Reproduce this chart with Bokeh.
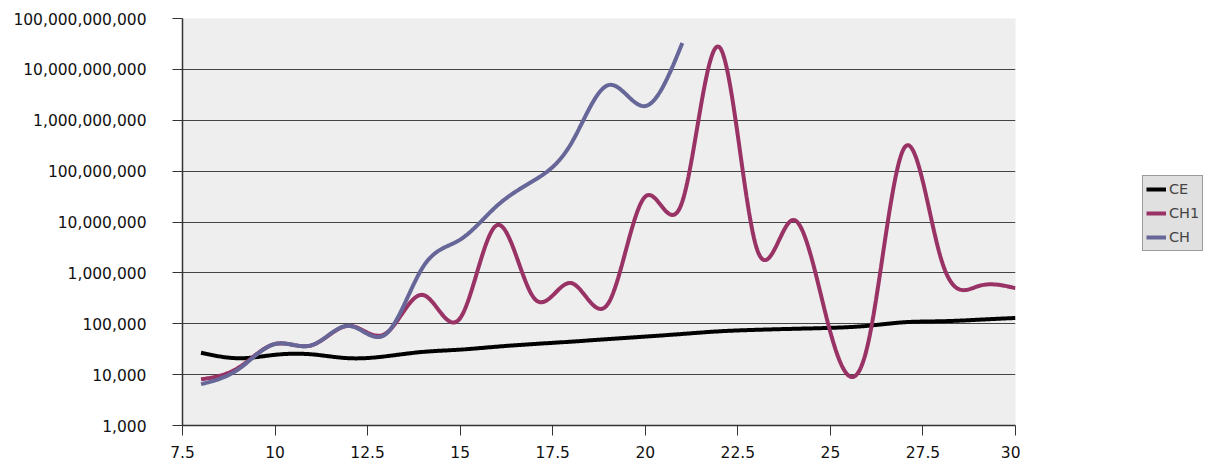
import numpy as np
from bokeh.plotting import figure
from bokeh.layouts import row
from bokeh.models import (FixedTicker, NumeralTickFormatter, Legend, LegendItem)
from bokeh.embed import file_html
from bokeh.resources import INLINE

# ---- data ----
x_all = [8, 9, 10, 11, 12, 13, 14, 15, 16, 17, 18, 19, 20, 21, 22, 23, 24, 25, 26, 27, 28, 29, 30]
ce = [27000, 21000, 24500, 25000, 21000, 23000, 28000, 31000, 35500, 40000, 44500, 50000,
      56000, 63000, 71000, 76000, 79500, 83000, 91000, 107000, 112000, 120000, 130000]
ch1 = [8100, 13500, 40000, 38000, 91000, 65000, 368000, 129000, 8700000, 316000, 631000,
       251000, 31600000, 25100000, 27500000000, 3200000, 11000000, 68000, 36000,
       290000000, 1780000, 550000, 500000]
x_ch = [8, 9, 10, 11, 12, 13, 14, 15, 16, 17, 18, 19, 20, 21]
ch = [6500, 12600, 40000, 38000, 91000, 63000, 1320000, 4500000, 21000000, 66000000,
      350000000, 4900000000, 1900000000, 33000000000]

series_names = ["CE", "CH1", "CH"]
series_colors = ["black", "#993366", "#666699"]
y_ticks = [1e3, 1e4, 1e5, 1e6, 1e7, 1e8, 1e9, 1e10, 1e11]
x_ticks = [7.5, 10, 12.5, 15, 17.5, 20, 22.5, 25, 27.5, 30]


def smooth(xs, ys, per=30):
    """Natural cubic spline through the points, in log space (screen space of a log axis)."""
    xs = np.asarray(xs, float)
    ly = np.log10(np.asarray(ys, float))
    n = len(xs)
    h = np.diff(xs)
    A = np.zeros((n, n))
    b = np.zeros(n)
    A[0, 0] = A[-1, -1] = 1.0
    for i in range(1, n - 1):
        A[i, i - 1] = h[i - 1]
        A[i, i] = 2 * (h[i - 1] + h[i])
        A[i, i + 1] = h[i]
        b[i] = 6 * ((ly[i + 1] - ly[i]) / h[i] - (ly[i] - ly[i - 1]) / h[i - 1])
    M = np.linalg.solve(A, b)
    out_x, out_y = [], []
    for i in range(n - 1):
        t = np.linspace(xs[i], xs[i + 1], per, endpoint=(i == n - 2))
        hi = h[i]
        s = (M[i] * (xs[i + 1] - t) ** 3 / (6 * hi) + M[i + 1] * (t - xs[i]) ** 3 / (6 * hi)
             + (ly[i] / hi - M[i] * hi / 6) * (xs[i + 1] - t)
             + (ly[i + 1] / hi - M[i + 1] * hi / 6) * (t - xs[i]))
        out_x.extend(t)
        out_y.extend(10 ** s)
    return out_x, out_y


p = figure(width=1020, height=469, x_range=(7.5, 30), y_range=(1e3, 1e11),
           y_axis_type="log", output_backend="svg", toolbar_location=None,
           min_border_left=182, min_border_right=5, min_border_top=18, min_border_bottom=44,
           background_fill_color="#eeeeee", border_fill_color="white", outline_line_color=None)

series = ((x_all, ce), (x_all, ch1), (x_ch, ch))
for (xs, ys), c in zip(series, series_colors):
    sx, sy = smooth(xs, ys)
    p.line(sx, sy, line_color=c, line_width=4)

p.xgrid.visible = False
p.ygrid.grid_line_color = "#444444"
p.ygrid.grid_line_width = 1

p.yaxis.ticker = FixedTicker(ticks=y_ticks, minor_ticks=[])
p.yaxis.formatter = NumeralTickFormatter(format="0,0")
p.xaxis.ticker = FixedTicker(ticks=x_ticks, minor_ticks=[])
p.xaxis.formatter = NumeralTickFormatter(format="0.[0]")

for ax in (p.xaxis[0], p.yaxis[0]):
    ax.axis_line_color = "#333333"
    ax.axis_line_width = 1.5
    ax.major_tick_line_color = "#333333"
    ax.major_tick_in = 0
    ax.major_tick_out = 10
    ax.minor_tick_in = 0
    ax.minor_tick_out = 0
    ax.major_label_text_font = "DejaVu Sans"
    ax.major_label_text_font_size = "15.5px"
    ax.major_label_text_color = "#111111"
p.yaxis.major_label_standoff = 26
p.xaxis.major_label_standoff = 10

# ---- legend panel (separate figure to the right) ----
# its ranges keep the series out of view, so only the legend swatches show
lf = figure(width=189, height=469, x_range=(0, 1), y_range=(0, 1),
            output_backend="svg", toolbar_location=None,
            x_axis_location=None, y_axis_location=None,
            min_border_left=0, min_border_right=0, min_border_top=0, min_border_bottom=0,
            background_fill_color="white", border_fill_color="white", outline_line_color=None)
lf.xgrid.visible = False
lf.ygrid.visible = False
items = []
for name, (xs, ys), c in zip(series_names, series, series_colors):
    r = lf.line(xs, ys, line_color=c, line_width=4)
    items.append(LegendItem(label=name, renderers=[r]))

legend = Legend(items=items, location=(122, 174))
legend.border_line_color = "#555555"
legend.background_fill_color = "#e0e0e0"
legend.background_fill_alpha = 1
legend.label_text_font = "DejaVu Sans"
legend.label_text_font_size = "14.5px"
legend.glyph_width = 20
legend.glyph_height = 20
legend.spacing = 4
legend.padding = 3
legend.margin = 0
legend.label_standoff = 3
lf.add_layout(legend, "center")

layout = row(p, lf, spacing=0)
open("out.html", "w").write(file_html(layout, INLINE))
